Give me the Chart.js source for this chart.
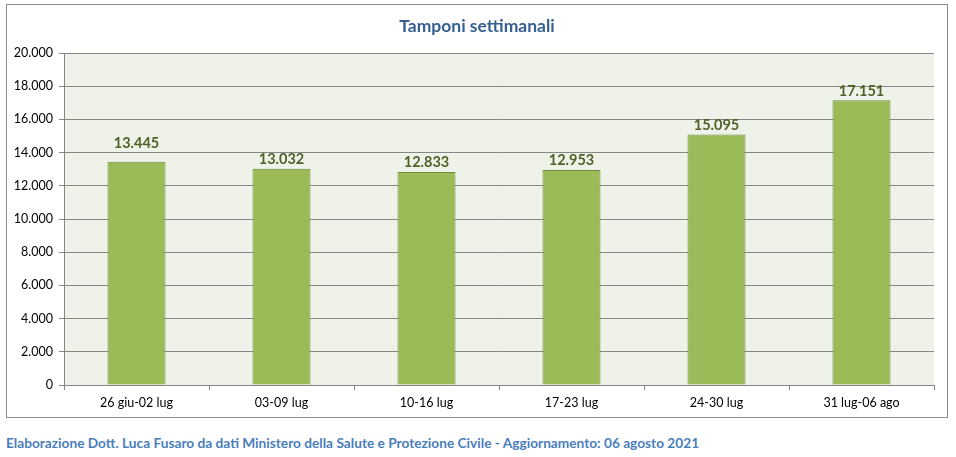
<!DOCTYPE html>
<html>
<head>
<meta charset="utf-8">
<script src="https://cdn.jsdelivr.net/npm/chart.js@4"></script>
<style>
  html, body { margin: 0; padding: 0; background: #fff; }
  body { width: 956px; height: 457px; position: relative; overflow: hidden; }
  #frame {
    position: absolute; left: 6px; top: 4px;
    width: 940px; height: 412px;
    border: 1px solid #8c8c8c;
  }
  #frame canvas { display: block; }
  #footer {
    position: absolute; left: 6px; top: 434px;
    font-family: Lato, "Open Sans", sans-serif;
    font-weight: bold; font-size: 13.7px;
    color: #4a7ebb; white-space: nowrap;
  }
</style>
</head>
<body>
<div id="frame"><canvas id="chart" width="940" height="412"></canvas></div>
<div id="footer">Elaborazione Dott. Luca Fusaro da dati Ministero della Salute e Protezione Civile - Aggiornamento: 06 agosto 2021</div>
<script>
const weeks = ['26 giu-02 lug', '03-09 lug', '10-16 lug', '17-23 lug', '24-30 lug', '31 lug-06 ago'];
const swabs = [13445, 13032, 12833, 12953, 15095, 17151];
const yMin = 0;
const yMax = 20000;
const yStep = 2000;

// 12345 -> "12.345"
const fmt = v => String(Math.round(v)).replace(/\B(?=(\d{3})+(?!\d))/g, '.');

const plotBackground = {
    id: 'plotBackground',
    beforeDraw(chart) {
        const { ctx, chartArea: a } = chart;
        ctx.save();
        ctx.fillStyle = '#eff2e9';
        ctx.fillRect(a.left, a.top, a.right - a.left, a.bottom - a.top);
        ctx.restore();
    }
};

const barLabels = {
    id: 'barLabels',
    afterDatasetsDraw(chart, args, opts) {
        const { ctx } = chart;
        const meta = chart.getDatasetMeta(0);
        ctx.save();
        ctx.font = 'bold 14.5px Lato, "Open Sans", sans-serif';
        ctx.fillStyle = '#4f6228';
        ctx.textAlign = 'center';
        ctx.textBaseline = 'bottom';
        meta.data.forEach((bar, i) => {
            const lift = opts.gap + (opts.extra[i] || 0);
            ctx.fillText(fmt(chart.data.datasets[0].data[i]), bar.x, bar.y - lift);
        });
        ctx.restore();
    }
};

new Chart(document.getElementById('chart'), {
    type: 'bar',
    data: {
        labels: weeks,
        datasets: [{
            data: swabs,
            backgroundColor: '#9bbb59',
            borderColor: '#6e8a3a',
            borderWidth: 1,
            borderSkipped: 'bottom',
            barPercentage: 0.4,
            categoryPercentage: 1
        }]
    },
    options: {
        responsive: false,
        animation: false,
        layout: { padding: 0 },
        plugins: {
            legend: { display: false },
            tooltip: { enabled: false },
            title: {
                display: true,
                text: 'Tamponi settimanali',
                color: '#366092',
                font: { family: 'Lato, "Open Sans", sans-serif', size: 17.5, weight: 'bold' },
                padding: { top: 11, bottom: 16 }
            },
            barLabels: { gap: 2, extra: { 0: 9 } }
        },
        scales: {
            x: {
                offset: true,
                grid: {
                    offset: true,
                    drawOnChartArea: false,
                    drawTicks: true,
                    tickLength: 5,
                    color: '#868686'
                },
                border: { color: '#868686' },
                ticks: {
                    color: '#000',
                    padding: 5,
                    font: { family: 'Lato, "Open Sans", sans-serif', size: 12.5 }
                },
                afterFit(scale) { scale.height = 32; }
            },
            y: {
                min: yMin,
                max: yMax,
                grid: {
                    color: '#868686',
                    tickLength: 5
                },
                border: { color: '#868686' },
                ticks: {
                    stepSize: yStep,
                    color: '#000',
                    padding: 6,
                    font: { family: 'Lato, "Open Sans", sans-serif', size: 12.5 },
                    callback: v => fmt(v)
                },
                afterFit(scale) { scale.width = 57; }
            },
            // empty spacer axis: leaves a margin right of the plot
            // while the title stays centred on the whole frame
            spacer: {
                position: 'right',
                min: yMin,
                max: yMax,
                grid: { display: false },
                border: { display: false },
                ticks: { display: false },
                afterFit(scale) { scale.width = 13; }
            }
        }
    },
    plugins: [plotBackground, barLabels]
});
</script>
</body>
</html>
